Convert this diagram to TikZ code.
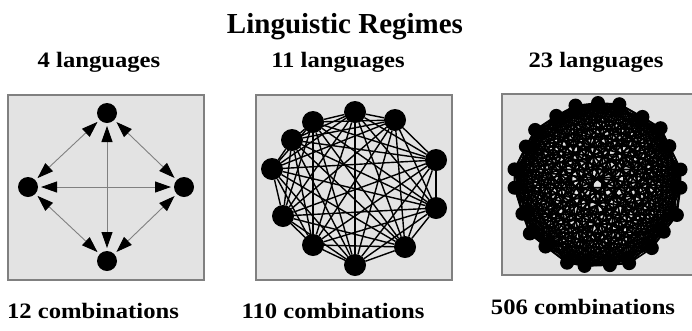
\documentclass[tikz,border=0pt]{standalone}
\usepackage{fontspec}
\setmainfont{Liberation Serif}
\usetikzlibrary{arrows.meta}
\begin{document}
\begin{tikzpicture}[x=1pt,y=-1pt,
  panel/.style={draw=black!50,line width=1.5pt,fill=black!11},
  dot1/.style={circle,fill=black,minimum size=20pt,inner sep=0pt,outer sep=0pt},
  dot2/.style={circle,fill=black,minimum size=22pt,inner sep=0pt,outer sep=0pt},
  dot3/.style={circle,fill=black,minimum size=14pt,inner sep=0pt,outer sep=0pt},
  arr/.style={draw=black!50,line width=0.9pt,{Triangle[length=16pt,width=11pt,fill=black,color=black]}-{Triangle[length=16pt,width=11pt,fill=black,color=black]},shorten <=3pt,shorten >=3pt},
  edge2/.style={draw=black,line width=1.4pt},
  edge3/.style={draw=black,line width=1.7pt},
  ttl/.style={font=\bfseries\fontsize{29}{32}\selectfont,anchor=base,inner sep=0pt},
  lbl/.style={font=\bfseries\fontsize{22}{24}\selectfont,anchor=base,inner sep=0pt,xscale=1.12}
]
\useasboundingbox[fill=white] (0,0) rectangle (692,330);
% titles
\node[ttl] (title) at (345,33) {Linguistic Regimes};
\node[lbl] (l1) at (99,67) {4 languages};
\node[lbl] (l2) at (338,67) {11 languages};
\node[lbl] (l3) at (596,67) {23 languages};
\node[lbl] (c1) at (93,318) {12 combinations};
\node[lbl] (c2) at (333,318) {110 combinations};
\node[lbl] (c3) at (583,314) {506 combinations};
% panels
\draw[panel] (8,95) rectangle (204,280);
\draw[panel] (256,95) rectangle (452,280);
\draw[panel] (502,94) rectangle (696,275);
% panel 1
\node[dot1] (a) at (107,113) {};
\node[dot1] (b) at (28,187) {};
\node[dot1] (c) at (184,187) {};
\node[dot1] (d) at (107,261) {};
\draw[arr] (a) -- (b);
\draw[arr] (a) -- (c);
\draw[arr] (b) -- (d);
\draw[arr] (c) -- (d);
\draw[arr] (b) -- (c);
\draw[arr] (a) -- (d);
% panel 2
\foreach \n/\x/\y in {1/355/112,2/395/120,3/436/160,4/436/208,5/405/247,6/355/265,7/313/245,8/283/216,9/272/169,10/292/140,11/313/122}
  \node[dot2] (m\n) at (\x,\y) {};
\foreach \i in {1,...,10}{
  \pgfmathtruncatemacro\ni{\i+1}
  \foreach \j in {\ni,...,11}{\draw[edge2] (m\i) -- (m\j);}
}
% panel 3
\foreach \k/\dr/\da in {1/0/0,2/1.5/-1,3/-1/1.5,4/2/0.5,5/-1.5/-1.5,6/1/1,7/-0.5/-2,8/1.5/1.5,9/-2/0.5,10/0.5/-1,11/2/2,12/-1/-0.5,13/0/1.5,14/1.5/-2,15/-1.5/1,16/1/-0.5,17/-2/-1.5,18/0.5/2,19/2/-1,20/-1/1,21/1/-1.5,22/-1.5/0.5,23/0.5/0}{
  \node[dot3] (n\k) at ({598+(83+\dr)*sin(360*(\k-1)/23+\da)},{185-(82+\dr)*cos(360*(\k-1)/23+\da)}) {};
}
\foreach \i in {1,...,22}{
  \pgfmathtruncatemacro\ni{\i+1}
  \foreach \j in {\ni,...,23}{\draw[edge3] (n\i.center) -- (n\j.center);}
}
\end{tikzpicture}
\end{document}
